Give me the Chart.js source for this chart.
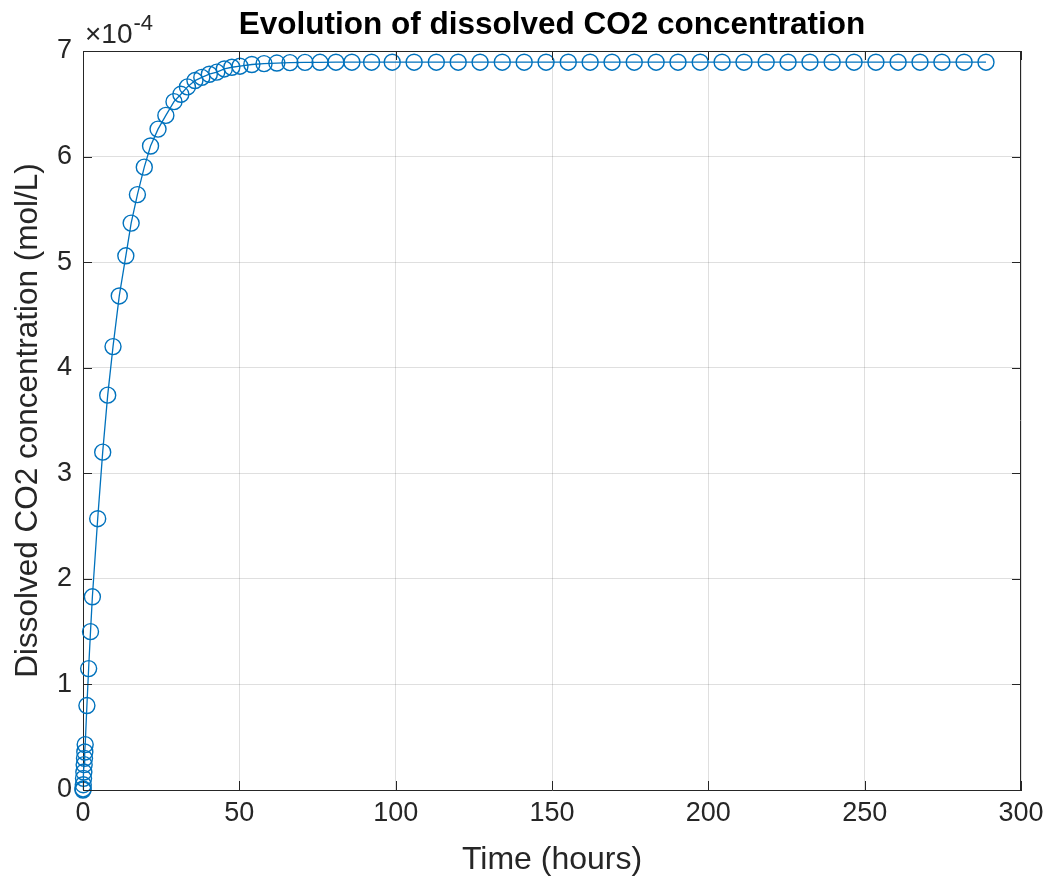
<!DOCTYPE html>
<html>
<head>
<meta charset="utf-8">
<title>Evolution of dissolved CO2 concentration</title>
<script src="https://cdn.jsdelivr.net/npm/chart.js@4.4.1/dist/chart.umd.min.js"></script>
<style>
  html, body { margin: 0; padding: 0; background: #ffffff; }
  #wrap { width: 1051px; height: 879px; }
</style>
</head>
<body>
<div id="wrap"><canvas id="c" width="1051" height="879"></canvas></div>
<script>
// ---- data ----
const timeHours = [
  0, 0.02, 0.08, 0.17, 0.27, 0.37, 0.48, 0.58, 0.7,
  1.25, 1.8, 2.4, 3.0, 4.7, 6.3, 7.9, 9.6, 11.6, 13.7, 15.4, 17.4, 19.6, 21.6,
  24.0, 26.5, 29.1, 31.3, 33.4, 35.8, 38.0, 40.4, 42.8, 45.2, 47.6, 50.2,
  54.0, 57.9, 62.0, 66.2, 71.0, 75.8, 80.9, 86.0, 92.3,
  98.9, 105.9, 113.0, 120.0, 127.0, 134.1, 141.1, 148.1, 155.2, 162.2, 169.2,
  176.3, 183.3, 190.3, 197.4, 204.4, 211.4, 218.5, 225.5, 232.5, 239.6, 246.6,
  253.6, 260.7, 267.7, 274.7, 281.8, 288.8
];
const co2Concentration = [
  0, 0.01e-4, 0.05e-4, 0.11e-4, 0.17e-4, 0.24e-4, 0.30e-4, 0.36e-4, 0.43e-4,
  0.80e-4, 1.15e-4, 1.50e-4, 1.83e-4, 2.57e-4, 3.20e-4, 3.74e-4, 4.20e-4, 4.68e-4, 5.06e-4, 5.37e-4, 5.64e-4, 5.90e-4, 6.10e-4,
  6.26e-4, 6.39e-4, 6.52e-4, 6.59e-4, 6.66e-4, 6.72e-4, 6.75e-4, 6.78e-4, 6.80e-4, 6.83e-4, 6.846e-4, 6.856e-4,
  6.872e-4, 6.88e-4, 6.886e-4, 6.89e-4, 6.892e-4, 6.893e-4, 6.894e-4, 6.894e-4, 6.894e-4,
  6.894e-4, 6.894e-4, 6.894e-4, 6.894e-4, 6.894e-4, 6.894e-4, 6.894e-4, 6.894e-4, 6.894e-4, 6.894e-4, 6.894e-4,
  6.894e-4, 6.894e-4, 6.894e-4, 6.894e-4, 6.894e-4, 6.894e-4, 6.894e-4, 6.894e-4, 6.894e-4, 6.894e-4, 6.894e-4,
  6.894e-4, 6.894e-4, 6.894e-4, 6.894e-4, 6.894e-4, 6.894e-4
];
const xTickValues = [0, 50, 100, 150, 200, 250, 300];
const yTickLabels = ['0', '1', '2', '3', '4', '5', '6', '7'];
const yExponentLabel = '\u00D710';
const yExponent = '-4';

const titleText = 'Evolution of dissolved CO2 concentration';
const xTitle = 'Time (hours)';
const yTitle = 'Dissolved CO2 concentration (mol/L)';

const FONT = "'Liberation Sans', Arial, Helvetica, sans-serif";
const TEXT = '#262626';
const BLUE = '#0072BD';

const points = timeHours.map((t, i) => ({ x: t, y: co2Concentration[i] }));

// draws the top/right box edges, inward tick marks and the x10^-4 multiplier
const matlabBox = {
  id: 'matlabBox',
  afterDraw(chart) {
    const { ctx, chartArea: a, scales } = chart;
    ctx.save();
    ctx.strokeStyle = TEXT;
    ctx.lineWidth = 1;
    ctx.beginPath();
    ctx.moveTo(a.left, a.top + 0.5); ctx.lineTo(a.right, a.top + 0.5);
    ctx.moveTo(a.right - 0.5, a.top); ctx.lineTo(a.right - 0.5, a.bottom);
    const tl = 9;
    scales.x.ticks.forEach(t => {
      const px = Math.round(scales.x.getPixelForValue(t.value)) + 0.5;
      ctx.moveTo(px, a.bottom); ctx.lineTo(px, a.bottom - tl);
      ctx.moveTo(px, a.top); ctx.lineTo(px, a.top + tl);
    });
    scales.y.ticks.forEach(t => {
      const py = Math.round(scales.y.getPixelForValue(t.value)) + 0.5;
      ctx.moveTo(a.left, py); ctx.lineTo(a.left + tl, py);
      ctx.moveTo(a.right, py); ctx.lineTo(a.right - tl, py);
    });
    ctx.stroke();
    // exponent label
    ctx.fillStyle = TEXT;
    ctx.textBaseline = 'alphabetic';
    ctx.textAlign = 'left';
    ctx.font = '28px ' + FONT;
    ctx.fillText(yExponentLabel, a.left + 2, a.top - 8);
    const w = ctx.measureText(yExponentLabel).width;
    ctx.font = '22px ' + FONT;
    ctx.fillText(yExponent, a.left + 2 + w + 1, a.top - 21);
    ctx.restore();
  }
};

new Chart(document.getElementById('c'), {
  type: 'scatter',
  data: {
    datasets: [{
      label: 'CO2',
      data: points,
      showLine: true,
      borderColor: BLUE,
      borderWidth: 1.3,
      backgroundColor: 'rgba(0,0,0,0)',
      pointStyle: 'circle',
      pointRadius: 8,
      pointBorderWidth: 1.4,
      pointBorderColor: BLUE,
      pointBackgroundColor: 'rgba(0,0,0,0)',
      tension: 0,
      clip: false
    }]
  },
  options: {
    responsive: false,
    animation: false,
    layout: { padding: { left: 0, right: 30, top: 0, bottom: 0 } },
    plugins: {
      legend: { display: false },
      tooltip: { enabled: false },
      title: {
        display: true,
        text: titleText,
        fullSize: false,
        color: '#000000',
        font: { family: FONT, size: 31.5, weight: 'bold', lineHeight: 1.2 },
        padding: { top: 6, bottom: 7.2 }
      }
    },
    scales: {
      x: {
        type: 'linear',
        min: 0, max: 300,
        afterFit(scale) { scale.height = 89; },
        afterBuildTicks(scale) { scale.ticks = xTickValues.map(v => ({ value: v })); },
        ticks: {
          color: TEXT,
          padding: 7,
          maxRotation: 0,
          font: { family: FONT, size: 27 },
          callback: v => String(v)
        },
        grid: { color: 'rgba(38,38,38,0.15)', lineWidth: 1, drawTicks: false },
        border: { display: true, color: TEXT, width: 1 },
        title: {
          display: true, text: xTitle, color: TEXT,
          font: { family: FONT, size: 32, lineHeight: 1.2 },
          padding: { top: 0, bottom: 0 }
        }
      },
      y: {
        type: 'linear',
        min: 0, max: 7e-4,
        afterFit(scale) { scale.width = 83; },
        afterBuildTicks(scale) { scale.ticks = yTickLabels.map((l, i) => ({ value: i * 1e-4 })); },
        ticks: {
          color: TEXT,
          padding: 11,
          font: { family: FONT, size: 27 },
          callback: (v, i) => yTickLabels[i]
        },
        grid: { color: 'rgba(38,38,38,0.15)', lineWidth: 1, drawTicks: false },
        border: { display: true, color: TEXT, width: 1 },
        title: {
          display: true, text: yTitle, color: TEXT,
          font: { family: FONT, size: 31.5, lineHeight: 1.2 },
          padding: { top: 9, bottom: 0 }
        }
      }
    }
  },
  plugins: [matlabBox]
});
</script>
</body>
</html>
